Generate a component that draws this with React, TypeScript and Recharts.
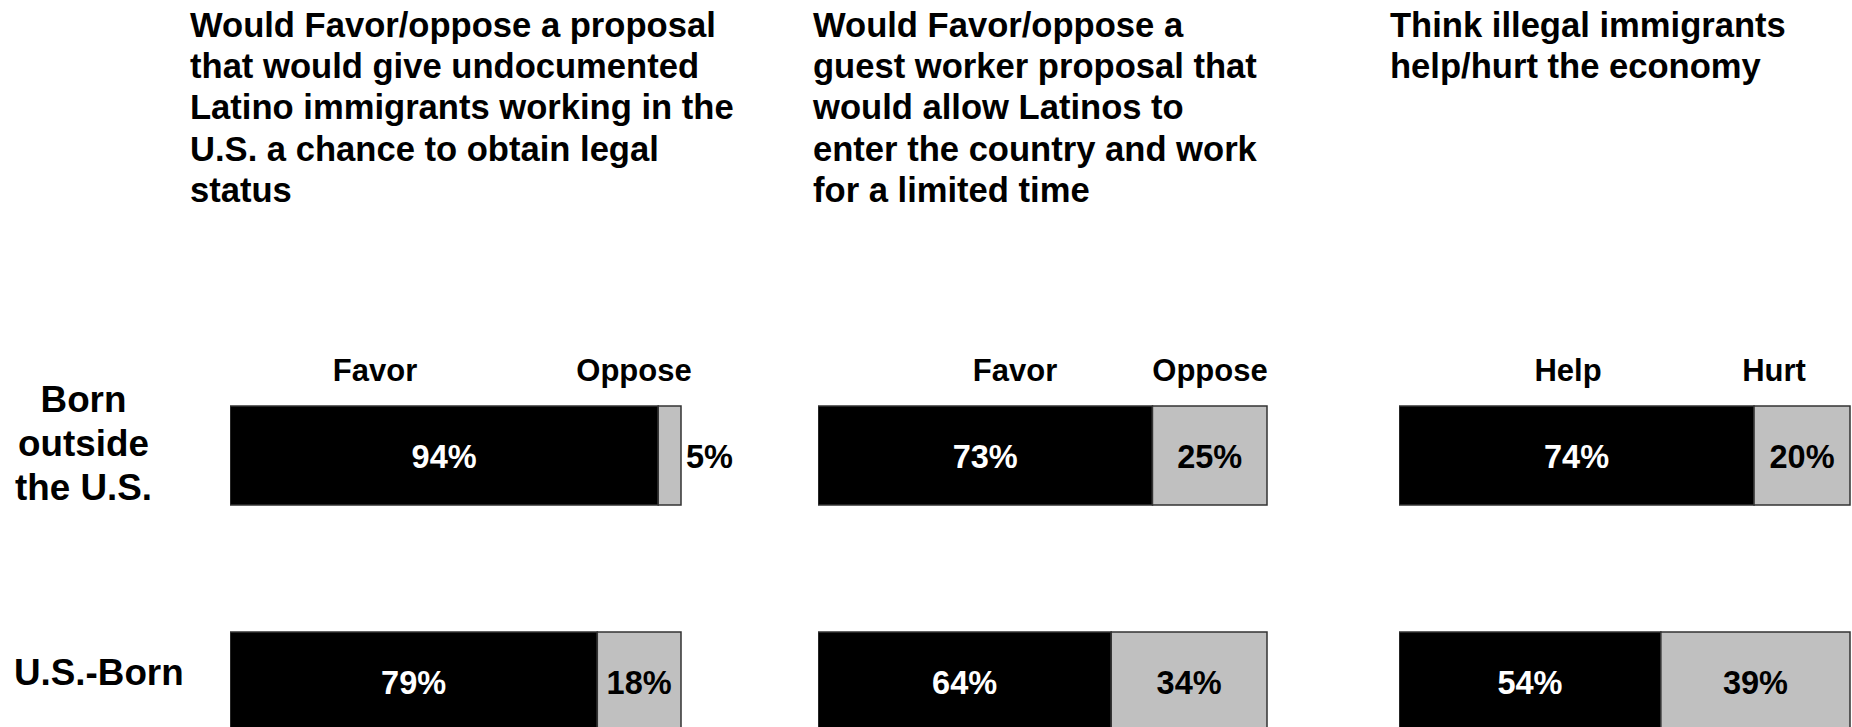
import { Bar, BarChart, LabelList, XAxis, YAxis } from 'recharts'

const FONT = '"Liberation Sans", Arial, Helvetica, sans-serif'

const ROWS = ['Born outside the U.S.', 'U.S.-Born']

// share of respondents, per row
const legalFavor = [94, 79]
const legalOppose = [5, 18]
const guestFavor = [73, 64]
const guestOppose = [25, 34]
const econHelp = [74, 54]
const econHurt = [20, 39]

const TITLE_LEGAL = [
  'Would Favor/oppose a proposal',
  'that would give undocumented',
  'Latino immigrants working in the',
  'U.S. a chance to obtain legal',
  'status',
]
const TITLE_GUEST = [
  'Would Favor/oppose a',
  'guest worker proposal that',
  'would allow Latinos to',
  'enter the country and work',
  'for a limited time',
]
const TITLE_ECON = ['Think illegal immigrants', 'help/hurt the economy']

const toRows = (a: number[], b: number[]) => ROWS.map((row, i) => ({ row, a: a[i], b: b[i] }))

const panels = [
  { title: TITLE_LEGAL, titleX: 190, left: 230, width: 451, heads: ['Favor', 'Oppose'], headX: [375, 634], data: toRows(legalFavor, legalOppose) },
  { title: TITLE_GUEST, titleX: 813, left: 818, width: 449, heads: ['Favor', 'Oppose'], headX: [1015, 1210], data: toRows(guestFavor, guestOppose) },
  { title: TITLE_ECON, titleX: 1390, left: 1399, width: 451, heads: ['Help', 'Hurt'], headX: [1568, 1774], data: toRows(econHelp, econHurt) },
]

function pctLabel(color: string) {
  return (props: any) => {
    const vb = props.viewBox || props
    const { x, y, width, height } = vb
    const outside = width < 40
    return (
      <text
        x={outside ? x + width + 5 : x + width / 2}
        y={y + height / 2 + 12.5}
        textAnchor={outside ? 'start' : 'middle'}
        fill={outside ? '#000' : color}
        fontSize={32.5}
        fontWeight="bold"
        fontFamily={FONT}
      >
        {props.value}%
      </text>
    )
  }
}

export default function App() {
  return (
    <div style={{ position: 'absolute', left: 0, top: 0, width: 1852, height: 727, overflow: 'hidden', background: '#fff', fontFamily: FONT }}>
      {panels.map((p, i) => (
        <div key={i} style={{ position: 'absolute', left: p.left, top: 341.5 }}>
          <BarChart
            width={p.width + 60}
            height={452}
            data={p.data}
            layout="vertical"
            stackOffset="expand"
            margin={{ top: 0, right: 60, bottom: 0, left: 0 }}
          >
            <XAxis type="number" hide domain={[0, 1]} />
            <YAxis type="category" dataKey="row" hide />
            <Bar dataKey="a" stackId="s" fill="#000" stroke="#333" strokeWidth={1.5} barSize={99} isAnimationActive={false}>
              <LabelList dataKey="a" content={pctLabel('#fff')} />
            </Bar>
            <Bar dataKey="b" stackId="s" fill="#c0c0c0" stroke="#333" strokeWidth={1.5} barSize={99} isAnimationActive={false}>
              <LabelList dataKey="b" content={pctLabel('#000')} />
            </Bar>
          </BarChart>
        </div>
      ))}

      <svg width={1852} height={727} style={{ position: 'absolute', left: 0, top: 0, pointerEvents: 'none' }}>
        <g fontFamily={FONT} fontWeight="bold" fill="#000">
          {panels.map((p, i) => (
            <text key={'t' + i} fontSize={34.6}>
              {p.title.map((line, j) => (
                <tspan key={j} x={p.titleX} y={36.7 + j * 41.3}>{line}</tspan>
              ))}
            </text>
          ))}
          {panels.map((p, i) =>
            p.heads.map((h, j) => (
              <text key={'h' + i + j} x={p.headX[j]} y={381} fontSize={31} textAnchor="middle">{h}</text>
            ))
          )}
          <text fontSize={36.8} textAnchor="middle">
            <tspan x={83.5} y={412}>Born</tspan>
            <tspan x={83.5} y={456}>outside</tspan>
            <tspan x={83.5} y={500}>the U.S.</tspan>
          </text>
          <text x={14} y={685} fontSize={36.8}>{ROWS[1]}</text>
        </g>
      </svg>
    </div>
  )
}
